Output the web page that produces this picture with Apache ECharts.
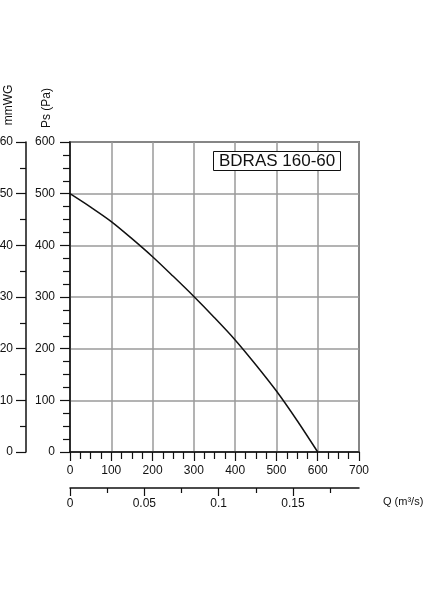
<!DOCTYPE html>
<html>
<head>
<meta charset="utf-8">
<script src="https://cdn.jsdelivr.net/npm/echarts@6/dist/echarts.min.js"></script>
<style>
  html, body { margin: 0; padding: 0; background: #fff; }
  #chart { width: 424px; height: 600px; }
</style>
</head>
<body>
<div id="chart"></div>
<script>
// fan curve: flow in m3/h, static pressure in Pa
const flow = [0, 50, 100, 150, 200, 250, 300, 350, 400, 450, 500, 550, 600];
const pressure = [500, 474, 446, 413, 378, 340, 301, 260, 217, 169, 118, 61, 0];

const qMajor = [0, 0.05, 0.1, 0.15];
const qMinor = [0.025, 0.075, 0.125, 0.175];
const modelName = "BDRAS 160-60";

const font = "Liberation Sans";
const black = "#111";

window.addEventListener("load", function () {
  const chart = echarts.init(document.getElementById("chart"));

  const labelStyle = { color: black, fontSize: 12, fontFamily: font };
  const tickLine = { color: black, width: 1.2 };

  let option = {
    animation: false,
    grid: {
      left: 70,
      right: 65,
      top: 142,
      bottom: 148,
      outerBoundsMode: "none",
      show: true,
      borderColor: black,
      borderWidth: 1.5,
    },
    title: {
      text: modelName,
      left: 213,
      top: 151,
      padding: [2, 6, 1, 6],
      borderColor: black,
      borderWidth: 1,
      backgroundColor: "#fff",
      textStyle: { fontFamily: font, fontSize: 17, fontWeight: "normal", color: black },
    },
    xAxis: [
      {
        type: "value",
        min: 0,
        max: 700,
        interval: 100,
        axisLine: { onZero: false, lineStyle: { color: black, width: 1.5 } },
        axisTick: { length: 9, lineStyle: tickLine },
        minorTick: { show: true, splitNumber: 4, length: 7, lineStyle: tickLine },
        axisLabel: Object.assign({ margin: 13 }, labelStyle),
        splitLine: { show: true, lineStyle: { color: "#9a9a9a", width: 1.5 } },
      },
      {
        type: "value",
        min: 0,
        max: 700 / 3600,
        position: "bottom",
        offset: 36,
        axisLine: { onZero: false, lineStyle: { color: black, width: 1.5 } },
        axisTick: { show: true, customValues: qMajor, length: 8, lineStyle: tickLine },
        axisLabel: Object.assign(
          { customValues: qMajor, margin: 10, formatter: (v) => String(v) },
          labelStyle
        ),
        splitLine: { show: false },
      },
      {
        type: "value",
        min: 0,
        max: 700 / 3600,
        position: "bottom",
        offset: 36,
        axisLine: { show: false, onZero: false },
        axisTick: { show: true, customValues: qMinor, length: 5, lineStyle: tickLine },
        axisLabel: { show: false },
        splitLine: { show: false },
      },
    ],
    yAxis: [
      {
        type: "value",
        min: 0,
        max: 600,
        interval: 100,
        position: "left",
        axisLine: { show: true, onZero: false, lineStyle: { color: black, width: 1.5 } },
        axisTick: { show: true, length: 10, lineStyle: tickLine },
        minorTick: { show: true, splitNumber: 4, length: 7, lineStyle: tickLine },
        axisLabel: Object.assign({ margin: 15 }, labelStyle),
        splitLine: { show: true, lineStyle: { color: "#9a9a9a", width: 1.5 } },
      },
      {
        type: "value",
        min: 0,
        max: 60,
        interval: 10,
        position: "left",
        offset: 44,
        axisLine: { show: true, onZero: false, lineStyle: { color: black, width: 1.5 } },
        axisTick: { show: true, length: 10, lineStyle: tickLine },
        minorTick: { show: true, splitNumber: 2, length: 6, lineStyle: tickLine },
        axisLabel: Object.assign({ margin: 13 }, labelStyle),
        splitLine: { show: false },
      },
    ],
    graphic: [
      {
        type: "text",
        x: 9,
        y: 105,
        rotation: Math.PI / 2,
        style: { text: "mmWG", fill: black, font: "12px " + font, align: "center", verticalAlign: "middle" },
      },
      {
        type: "text",
        x: 47,
        y: 108,
        rotation: Math.PI / 2,
        style: { text: "Ps (Pa)", fill: black, font: "12px " + font, align: "center", verticalAlign: "middle" },
      },
      {
        type: "text",
        x: 383,
        y: 502,
        style: { text: "Q (m³/s)", fill: black, font: "11px " + font, align: "left", verticalAlign: "middle" },
      },
    ],
    series: [
      {
        type: "line",
        xAxisIndex: 0,
        yAxisIndex: 0,
        data: flow.map((q, i) => [q, pressure[i]]),
        smooth: 0.3,
        symbol: "none",
        lineStyle: { color: black, width: 1.5 },
        z: 5,
      },
    ],
  };
  chart.setOption(option);
});
</script>
</body>
</html>
